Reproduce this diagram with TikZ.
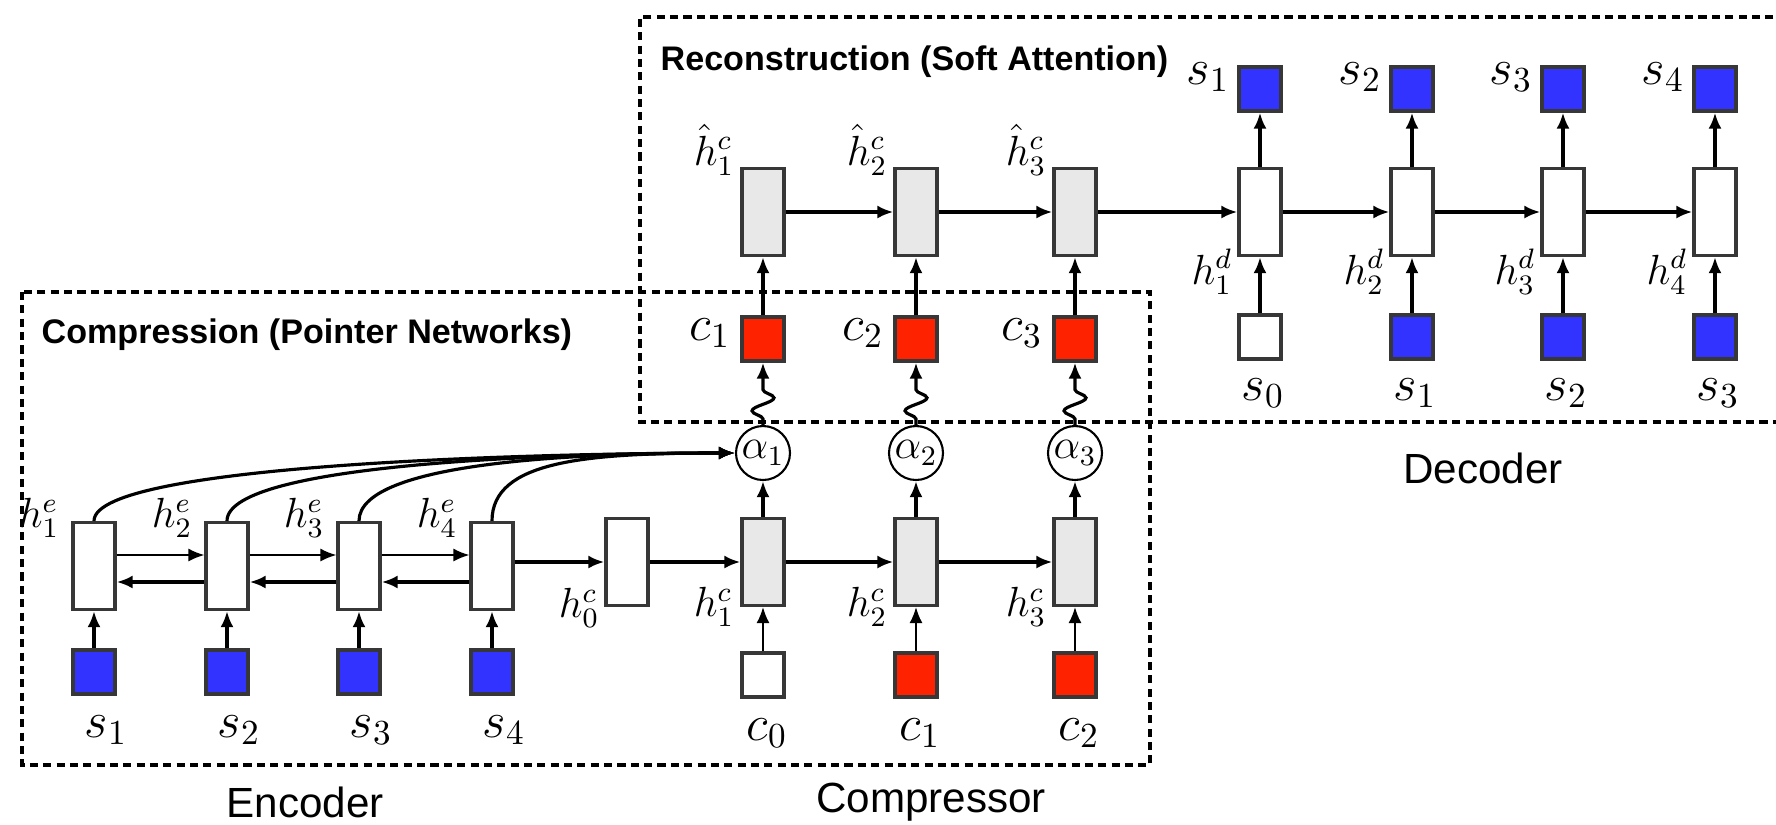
\documentclass[tikz,border=0pt]{standalone}
\usepackage{amsmath}
\usepackage{fontspec}
\setmainfont{Liberation Sans}
\usetikzlibrary{arrows.meta,decorations.pathmorphing}

\definecolor{cellblue}{RGB}{51,51,255}
\definecolor{cellred}{RGB}{255,34,0}
\definecolor{cellgray}{RGB}{232,232,232}
\definecolor{edgegray}{RGB}{55,55,55}

\begin{document}
\begin{tikzpicture}[x=0.1mm,y=-0.1mm]
    \tikzset{
        cell/.style = {draw=edgegray,line width=0.9pt,minimum width=4.2mm,minimum height=8.7mm,inner sep=0pt},
        token/.style = {draw=edgegray,line width=0.9pt,minimum width=4.2mm,minimum height=4.4mm,inner sep=0pt},
        att/.style = {shape=circle,draw,line width=0.6pt,minimum size=5.4mm,inner sep=0pt,font=\fontsize{12}{14}\selectfont},
        hlab/.style = {inner sep=0.5pt,font=\fontsize{12}{14}\selectfont},
        var/.style = {inner sep=0.5pt,font=\fontsize{14}{16}\selectfont},
        grouptitle/.style = {inner sep=0pt,font=\fontsize{9.7}{11}\selectfont\bfseries,anchor=base west},
        part/.style = {inner sep=0.5pt,font=\fontsize{12}{14}\selectfont},
        groupbox/.style = {line width=1.1pt,dash pattern=on 2.3pt off 1.5pt},
        link/.style = {-{Latex[length=1.6mm,width=1.3mm]},line width=0.9pt},
        thinlink/.style = {link,line width=0.5pt}
    }
    \useasboundingbox (0,0) rectangle (1776,824);
    \clip (0,0) rectangle (1776,824);

    % Dashed frames
    \draw[groupbox] (22,292) rectangle (1150,765);
    \draw[groupbox] (1800,17) -| (640,422) -- (1800,422);
    \node[grouptitle] (tcomp) at (41,343) {Compression (Pointer Networks)};
    \node[grouptitle] (trec) at (660,70) {Reconstruction (Soft Attention)};

    % Encoder cells and inputs
    \foreach \x/\i in {94/1, 227/2, 359/3, 492/4} {
        \node[cell] (E\i) at (\x,566) {};
        \node[token,fill=cellblue] (X\i) at (\x,672) {};
        \node[var] (sX\i) at (\x+12,730) {$s_\i$};
        \node[hlab] (hE\i) at (\x-55,518) {$h^e_\i$};
    }
    \node[cell] (H0) at (627,562) {};
    \node[hlab] (hH0) at (579,608) {$h^c_0$};

    % Compressor cells, attention and pointed outputs
    \foreach \x/\i/\j in {763/1/0, 916/2/1, 1075/3/2} {
        \node[cell,fill=cellgray] (C\i) at (\x,562) {};
        \node[hlab] (hC\i) at (\x-49,607) {$h^c_\i$};
        \node[att] (A\i) at (\x,453) {$\alpha_\i$};
        \node[token,fill=cellred] (R\i) at (\x,339) {};
        \node[var] (cR\i) at (\x-53,333) {$c_\i$};
        \node[cell,fill=cellgray] (B\i) at (\x,212) {};
        \node[hlab] (hB\i) at (\x-49,150) {$\hat{h}^c_\i$};
        \node[var] (cP\j) at (\x+4,733) {$c_\j$};
    }
    \node[token] (P0) at (763,675) {};
    \node[token,fill=cellred] (P1) at (916,675) {};
    \node[token,fill=cellred] (P2) at (1075,675) {};

    % Decoder cells
    \foreach \x/\i/\j in {1260/1/0, 1412/2/1, 1563/3/2, 1715/4/3} {
        \node[cell] (D\i) at (\x,212) {};
        \node[token,fill=cellblue] (O\i) at (\x,89) {};
        \node[var] (sO\i) at (\x-52,77) {$s_\i$};
        \node[hlab] (hD\i) at (\x-48,272) {$h^d_\i$};
        \node[var] (sI\i) at (\x+3,393) {$s_\j$};
    }
    \node[token] (I1) at (1260,337) {};
    \foreach \x/\i in {1412/2, 1563/3, 1715/4}
        \node[token,fill=cellblue] (I\i) at (\x,337) {};

    \node[part] (lenc) at (305,802) {Encoder};
    \node[part] (lcomp) at (931,802) {Compressor};
    \node[part] (ldec) at (1483,468) {Decoder};

    % Bidirectional encoder links
    \foreach \source/\target in {E1/E2, E2/E3, E3/E4} {
        \draw[thinlink] ([yshift=1.1mm]\source.east) -- ([yshift=1.1mm]\target.west);
        \draw[link] ([yshift=-1.6mm]\target.west) -- ([yshift=-1.6mm]\source.east);
    }
    \draw[link] (E4.east |- H0.west) -- (H0.west);

    % Recurrent links
    \foreach \source/\target in {H0/C1, C1/C2, C2/C3, B1/B2, B2/B3, B3/D1, D1/D2, D2/D3, D3/D4}
        \draw[link] (\source.east) -- (\target.west);

    % Inputs and outputs
    \foreach \i in {1,...,4} {
        \draw[link] (X\i.north) -- (E\i.south);
        \draw[link] (I\i.north) -- (D\i.south);
        \draw[link] (D\i.north) -- (O\i.south);
    }
    \foreach \source/\target in {P0/C1, P1/C2, P2/C3}
        \draw[thinlink] (\source.north) -- (\target.south);

    % Pointer attention
    \foreach \i in {1,...,4}
        \draw[link] (E\i.north) .. controls +(0,-60) and +(-150,0) .. (A1.west);
    \foreach \i in {1,2,3} {
        \draw[link] (C\i.north) -- (A\i.south);
        \draw[link,decorate,decoration={snake,amplitude=1.1mm,segment length=2.6mm,pre length=0.6mm,post length=1.8mm}] (A\i.north) -- (R\i.south);
        \draw[link] (R\i.north) -- (B\i.south);
    }
\end{tikzpicture}
\end{document}
